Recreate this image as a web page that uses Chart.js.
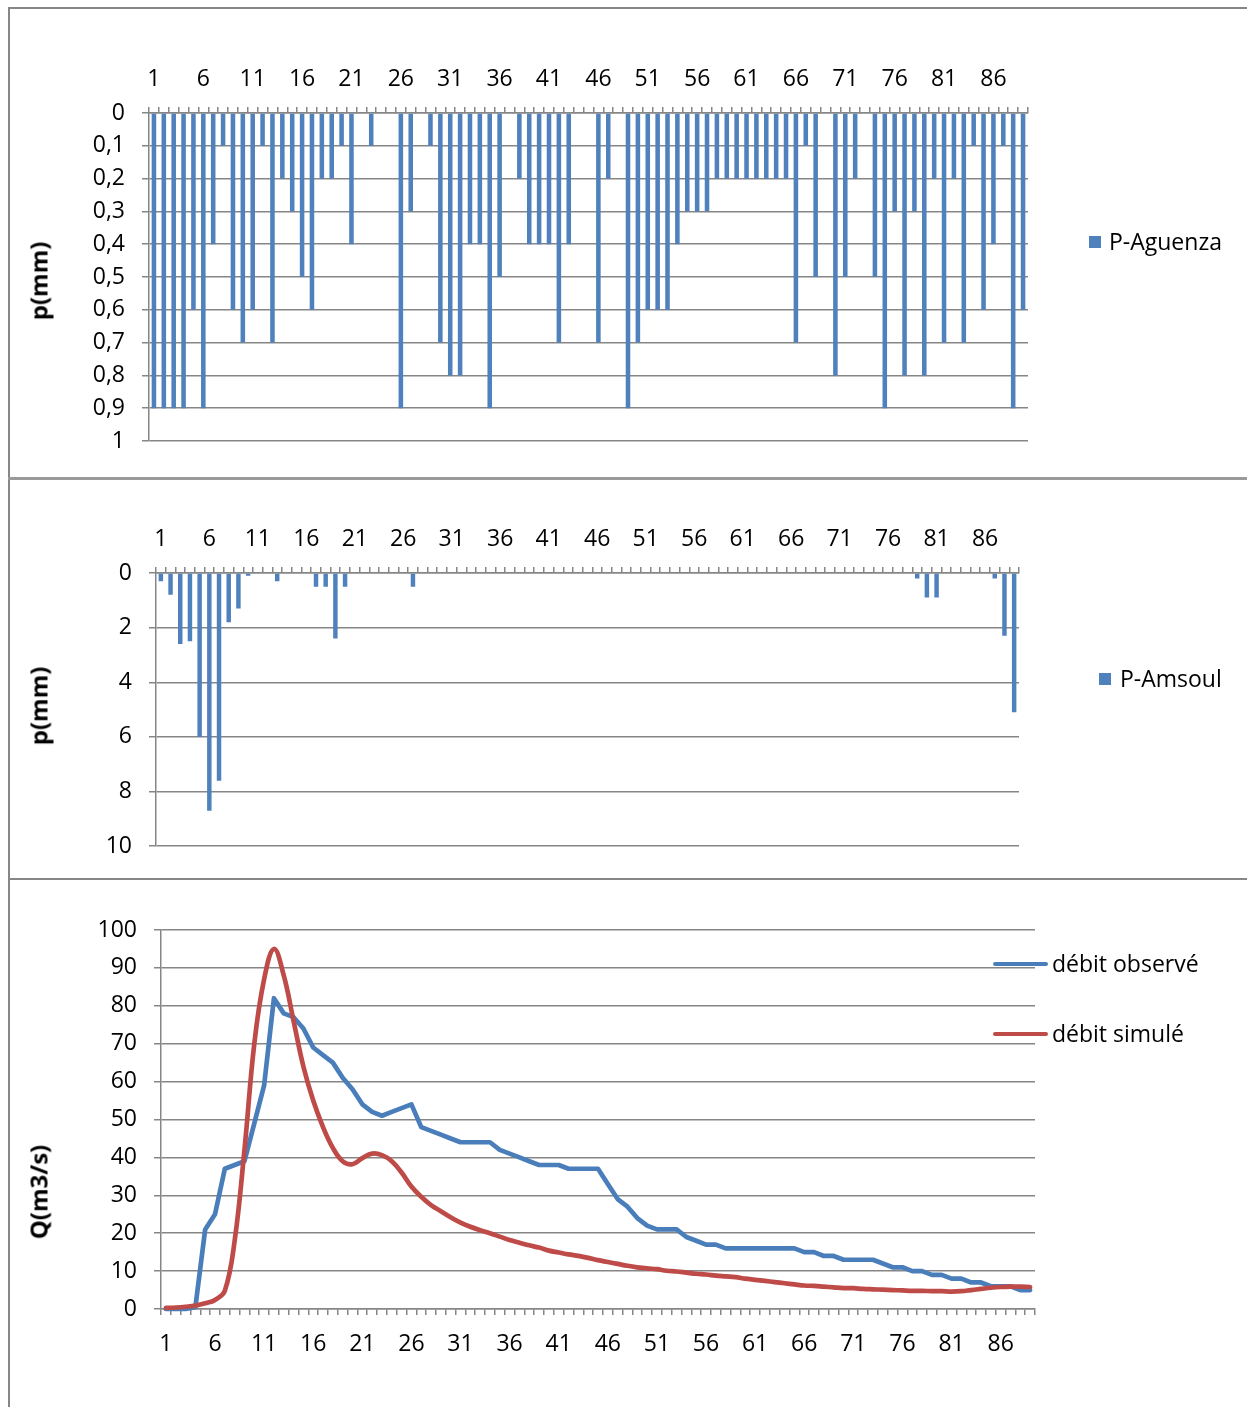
<!DOCTYPE html>
<html>
<head>
<meta charset="utf-8">
<title>Pluies et débits</title>
<script src="https://cdn.jsdelivr.net/npm/chart.js@4.4.1/dist/chart.umd.min.js"></script>
<style>
  html, body { margin: 0; padding: 0; background: #fff; }
  #page { position: relative; width: 1247px; height: 1407px; overflow: hidden;
          font-family: "Open Sans", sans-serif; color: #000; }
  .rule { position: absolute; background: #878787; }
  canvas { position: absolute; }
  .ytitle { position: absolute; font-weight: bold; font-size: 24px; white-space: nowrap;
            transform: translate(-50%, -50%) rotate(-90deg); }
  .legtxt { position: absolute; font-size: 23px; white-space: nowrap; transform: translateY(-50%); line-height: 1.2; }
  .legbox { position: absolute; width: 12px; height: 12px; background: #4F81BD; }
  .legline { position: absolute; width: 55px; height: 4px; border-radius: 2px; }
</style>
</head>
<body>
<div id="page">
  <!-- frame and panel separators -->
  <div class="rule" style="left:8px;top:7px;width:1239px;height:2px;"></div>
  <div class="rule" style="left:8px;top:7px;width:2px;height:1400px;"></div>
  <div class="rule" style="left:8px;top:477px;width:1239px;height:3px;background:#9a9a9a;"></div>
  <div class="rule" style="left:8px;top:878px;width:1239px;height:2px;"></div>

  <canvas id="cAguenza" width="1237" height="466" style="left:10px;top:10px;"></canvas>
  <canvas id="cAmsoul" width="1237" height="396" style="left:10px;top:481px;"></canvas>
  <canvas id="cDebit" width="1237" height="525" style="left:10px;top:882px;"></canvas>

  <div class="ytitle" style="left:38px;top:281px;">p(mm)</div>
  <div class="ytitle" style="left:38px;top:706px;">p(mm)</div>
  <div class="ytitle" style="left:38px;top:1192px;">Q(m3/s)</div>

  <div class="legbox" style="left:1089px;top:236px;"></div>
  <div class="legtxt" style="left:1109px;top:242px;">P-Aguenza</div>
  <div class="legbox" style="left:1099px;top:673px;"></div>
  <div class="legtxt" style="left:1120px;top:679px;">P-Amsoul</div>
  <div class="legline" style="left:993px;top:962px;background:#4A7EBB;"></div>
  <div class="legtxt" style="left:1052px;top:964px;">débit observé</div>
  <div class="legline" style="left:993px;top:1032px;background:#BE4B48;"></div>
  <div class="legtxt" style="left:1052px;top:1034px;">débit simulé</div>
</div>

<script>
// Time steps 1..89
const categories = ['1','2','3','4','5','6','7','8','9','10','11','12','13','14','15','16','17','18','19','20',
  '21','22','23','24','25','26','27','28','29','30','31','32','33','34','35','36','37','38','39','40',
  '41','42','43','44','45','46','47','48','49','50','51','52','53','54','55','56','57','58','59','60',
  '61','62','63','64','65','66','67','68','69','70','71','72','73','74','75','76','77','78','79','80',
  '81','82','83','84','85','86','87','88','89'];

// Rainfall at Aguenza (mm)
const pAguenza = [
  0.9,0.9,0.9,0.9,0.6,0.9,0.4,0.1,0.6,0.7,
  0.6,0.1,0.7,0.2,0.3,0.5,0.6,0.2,0.2,0.1,
  0.4,0,0.1,0,0,0.9,0.3,0,0.1,0.7,
  0.8,0.8,0.4,0.4,0.9,0.5,0,0.2,0.4,0.4,
  0.4,0.7,0.4,0,0,0.7,0.2,0,0.9,0.7,
  0.6,0.6,0.6,0.4,0.3,0.3,0.3,0.2,0.2,0.2,
  0.2,0.2,0.2,0.2,0.2,0.7,0.1,0.5,0,0.8,
  0.5,0.2,0,0.5,0.9,0.3,0.8,0.3,0.8,0.2,
  0.7,0.2,0.7,0.1,0.6,0.4,0.1,0.9,0.6];

// Rainfall at Amsoul (mm)
const pAmsoul = [
  0.3,0.8,2.6,2.5,6.0,8.7,7.6,1.8,1.3,0.1,
  0,0,0.3,0,0,0,0.5,0.5,2.4,0.5,
  0,0,0,0,0,0,0.5,0,0,0,
  0,0,0,0,0,0,0,0,0,0,
  0,0,0,0,0,0,0,0,0,0,
  0,0,0,0,0,0,0,0,0,0,
  0,0,0,0,0,0,0,0,0,0,
  0,0,0,0,0,0,0,0,0.2,0.9,
  0.9,0,0,0,0,0,0.2,2.3,5.1];

// Observed discharge (m3/s)
const debitObserve = [
  0,0,0,0.5,21,25,37,38,39,49,
  59,82,78,77,74,69,67,65,61,58,
  54,52,51,52,53,54,48,47,46,45,
  44,44,44,44,42,41,40,39,38,38,
  38,37,37,37,37,33,29,27,24,22,
  21,21,21,19,18,17,17,16,16,16,
  16,16,16,16,16,15,15,14,14,13,
  13,13,13,12,11,11,10,10,9,9,
  8,8,7,7,6,6,6,5,5];

// Simulated discharge (m3/s)
const debitSimule = [
  0.3,0.4,0.6,0.9,1.5,2.4,4.8,18,42,70,
  87,95,88,76,64,55,48,42.5,39,38.2,
  39.8,41,40.6,39,36,32.3,29.6,27.4,25.8,24.2,
  22.8,21.7,20.8,20,19.1,18.2,17.5,16.8,16.2,15.4,
  14.9,14.4,14,13.5,12.9,12.4,11.9,11.4,11,10.7,
  10.5,10.1,9.9,9.6,9.3,9.1,8.8,8.6,8.4,8,
  7.7,7.4,7.1,6.8,6.5,6.2,6.1,5.9,5.7,5.5,
  5.5,5.3,5.2,5.1,5,4.9,4.8,4.8,4.7,4.7,
  4.6,4.7,5,5.3,5.6,5.8,5.9,5.9,5.8];

// Value-axis tick labels, listed from the lowest value upwards
const ticksAguenza = ['0','0,1','0,2','0,3','0,4','0,5','0,6','0,7','0,8','0,9','1'];
const ticksAmsoul = ['0','2','4','6','8','10'];
const ticksDebit = ['0','10','20','30','40','50','60','70','80','90','100'];

const GRID = '#868686';
const BAR = '#4F81BD';

Chart.defaults.font.family = "'Open Sans', sans-serif";
Chart.defaults.font.size = 23;
Chart.defaults.color = '#000';
Chart.defaults.animation = false;

const every5 = (val, i) => (i % 5 === 0 ? categories[i] : '');

function categoryAxis(position, fitHeight, pad) {
  return {
    type: 'category',
    position: position,
    offset: true,
    grid: { display: true, offset: true, drawOnChartArea: false, drawTicks: true,
            tickLength: 6, color: GRID, lineWidth: 1.5 },
    border: { display: true, color: GRID, width: 1.5 },
    ticks: { autoSkip: false, maxRotation: 0, minRotation: 0, padding: pad, callback: every5 },
    afterFit: s => { s.height = fitHeight; }
  };
}

function valueAxis(min, max, step, reverse, labels) {
  return {
    type: 'linear',
    position: 'left',
    min: min, max: max, reverse: reverse,
    grid: { color: GRID, lineWidth: 1.5, tickLength: 7, drawTicks: true },
    border: { display: true, color: GRID, width: 1.5 },
    ticks: { stepSize: step, padding: 17,
             callback: v => labels[Math.round((v - min) / step)] },
    afterFit: s => { s.width = 70; }
  };
}

function rainChart(id, values, maxV, step, labels, padding) {
  return new Chart(document.getElementById(id), {
    type: 'bar',
    data: {
      labels: categories,
      datasets: [{ data: values, backgroundColor: BAR, borderWidth: 0,
                   barPercentage: 0.46, categoryPercentage: 1.0 }]
    },
    options: {
      responsive: false,
      layout: { padding: padding },
      plugins: { legend: { display: false }, tooltip: { enabled: false } },
      scales: {
        x: categoryAxis('top', 80, 14),
        y: valueAxis(0, maxV, step, true, labels)
      }
    }
  });
}

rainChart('cAguenza', pAguenza, 1, 0.1, ticksAguenza, { left: 69, right: 219, top: 23, bottom: 35 });
rainChart('cAmsoul', pAmsoul, 10, 2, ticksAmsoul, { left: 76, right: 228, top: 12, bottom: 30 });

new Chart(document.getElementById('cDebit'), {
  type: 'line',
  data: {
    labels: categories,
    datasets: [
      { label: 'débit observé', data: debitObserve, borderColor: '#4A7EBB', borderWidth: 4.7,
        pointRadius: 0, tension: 0, fill: false, clip: false, order: 2,
        borderJoinStyle: 'round', borderCapStyle: 'round' },
      { label: 'débit simulé', data: debitSimule, borderColor: '#BE4B48', borderWidth: 4.7,
        pointRadius: 0, tension: 0.4, fill: false, clip: false, order: 1,
        borderJoinStyle: 'round', borderCapStyle: 'round' }
    ]
  },
  options: {
    responsive: false,
    layout: { padding: { left: 81, right: 212, top: 48, bottom: 28 } },
    plugins: { legend: { display: false }, tooltip: { enabled: false } },
    scales: {
      x: categoryAxis('bottom', 70, 16),
      y: valueAxis(0, 100, 10, false, ticksDebit)
    }
  }
});
</script>
</body>
</html>
